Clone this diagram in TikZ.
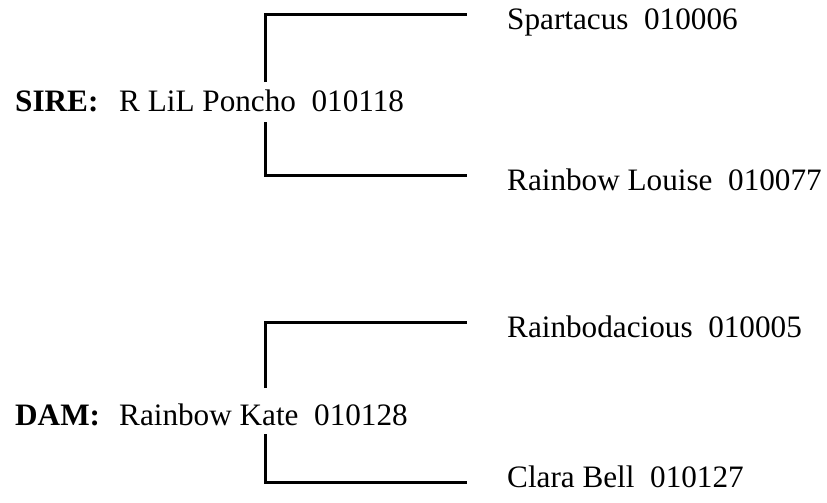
\documentclass[tikz,border=0pt]{standalone}
\usepackage{fontspec}
\setmainfont{Liberation Serif}
\begin{document}
\begin{tikzpicture}[x=1pt,y=-1pt,
  txt/.style={inner sep=0pt,anchor=base west,font=\fontsize{31.2}{37}\selectfont},
  lbl/.style={txt,font=\fontsize{31.2}{37}\selectfont\bfseries},
  brk/.style={line width=3pt,line join=miter}]
\useasboundingbox (0,0) rectangle (827,503);
% SIRE block
\node[lbl] (sirel) at (15,111) {SIRE:};
\node[txt] (sire) at (119,111) {R LiL Poncho\ \ 010118};
\node[txt] (s1) at (507,30) {Spartacus\ \ 010006};
\node[txt] (s2) at (507,190) {Rainbow Louise\ \ 010077};
\coordinate (sa) at (265,82);
\coordinate (sb) at (265,122);
\coordinate (s1e) at (467,15);
\coordinate (s2e) at (467,175);
\draw[brk] (sa) |- (s1e);
\draw[brk] (sb) |- (s2e);
% DAM block
\node[lbl] (daml) at (15,425) {DAM:};
\node[txt] (dam) at (119,425) {Rainbow Kate\ \ 010128};
\node[txt] (d1) at (507,337) {Rainbodacious\ \ 010005};
\node[txt] (d2) at (507,487) {Clara Bell\ \ 010127};
\coordinate (da) at (265,388);
\coordinate (db) at (265,434);
\coordinate (d1e) at (467,322);
\coordinate (d2e) at (467,482);
\draw[brk] (da) |- (d1e);
\draw[brk] (db) |- (d2e);
\end{tikzpicture}
\end{document}
